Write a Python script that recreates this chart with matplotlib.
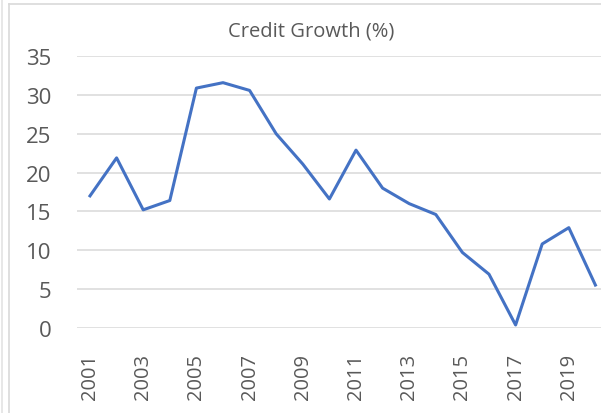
import matplotlib
matplotlib.use("Agg")
import matplotlib.pyplot as plt
from matplotlib.lines import Line2D

years = list(range(2001, 2021))
credit_growth = [17.0, 21.9, 15.2, 16.4, 30.9, 31.6, 30.6, 25.0, 21.1, 16.6,
                 22.9, 18.0, 16.0, 14.6, 9.7, 6.9, 0.35, 10.8, 12.9, 5.5]
y_ticks = [0, 5, 10, 15, 20, 25, 30, 35]
x_tick_labels = [str(y) for y in years[::2]]

plt.rcParams['font.family'] = ['Open Sans', 'DejaVu Sans']
W, H = 601, 414
fig = plt.figure(figsize=(W / 100, H / 100), dpi=100)

left, right = 76.7, 608.7
top, bottom = 57.3, 328.7
ax = fig.add_axes([left / W, 1 - bottom / H, (right - left) / W, (bottom - top) / H])

x = list(range(len(years)))
ax.plot(x, credit_growth, color='#4472C4', linewidth=2.2, solid_joinstyle='round', zorder=3)
ax.set_xlim(-0.5, len(years) - 0.5)
ax.set_ylim(0, 35)
ax.set_yticks(y_ticks)
ax.set_yticklabels([str(v) for v in y_ticks])
ax.set_xticks(x[::2])
ax.set_xticklabels(x_tick_labels, rotation=90)
ax.grid(axis='y', color='#D9D9D9', linewidth=1.1)
ax.set_axisbelow(True)
for s in ax.spines.values():
    s.set_visible(False)
ax.tick_params(axis='both', length=0, colors='#595959')
ax.tick_params(axis='y', pad=18, labelsize=16)
ax.tick_params(axis='x', pad=18, labelsize=14.5)

fig.text(311 / W, 1 - 31 / H, 'Credit Growth (%)', ha='center', va='center',
         fontsize=14.5, color='#595959')

# chart area borders
fig.add_artist(Line2D([2.3 / W, 2.3 / W], [0, 1], color='#E3E3E3', linewidth=1.2))
fig.add_artist(Line2D([9 / W, 9 / W], [0, 1 - 4.7 / H], color='#D9D9D9', linewidth=1.2))
fig.add_artist(Line2D([9 / W, 1], [1 - 4.7 / H, 1 - 4.7 / H], color='#D9D9D9', linewidth=1.2))

fig.savefig('out.png', dpi=100)
